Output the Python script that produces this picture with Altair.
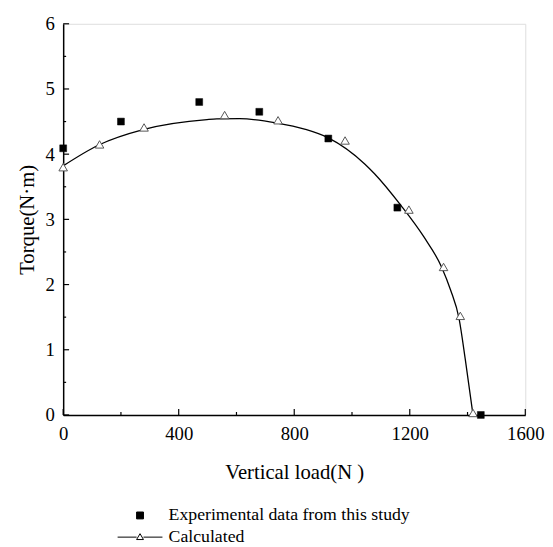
import altair as alt
import pandas as pd

# Experimental data (squares)
exp_x = [0, 200, 471, 679, 918, 1157, 1446]
exp_y = [4.09, 4.5, 4.8, 4.65, 4.24, 3.18, 0.0]

# Calculated points (triangles)
calc_x = [0, 126, 280, 559, 744, 976, 1197, 1317, 1375, 1419]
calc_y = [3.80, 4.15, 4.41, 4.60, 4.52, 4.21, 3.15, 2.27, 1.52, 0.03]

# Calculated smooth curve
curve_x = [0, 123, 280, 498, 532, 611, 737, 839, 918, 1044, 1078, 1170, 1249, 1310, 1341, 1371, 1392, 1419]
curve_y = [3.82, 4.14, 4.38, 4.53, 4.54, 4.545, 4.48, 4.38, 4.25, 3.85, 3.70, 3.21, 2.73, 2.27, 1.92, 1.47, 0.86, 0.0]

series = ["Experimental data from this study", "Calculated"]
x_major = [0, 400, 800, 1200, 1600]
x_minor = [200, 600, 1000, 1400]
y_major = [0, 1, 2, 3, 4, 5, 6]
y_minor = [0.5, 1.5, 2.5, 3.5, 4.5, 5.5]

FONT = "Liberation Serif"
W, H = 469, 397

exp_df = pd.DataFrame({"x": exp_x, "y": exp_y})
calc_df = pd.DataFrame({"x": calc_x, "y": calc_y})
curve_df = pd.DataFrame({"x": curve_x, "y": curve_y})
legend_df = pd.DataFrame({"item": series})
xmaj_df = pd.DataFrame({"v": x_major})
xmin_df = pd.DataFrame({"v": x_minor})
ymaj_df = pd.DataFrame({"v": y_major})
ymin_df = pd.DataFrame({"v": y_minor})

xscale = alt.Scale(domain=[0, 1600], nice=False, zero=False)
yscale = alt.Scale(domain=[0, 6], nice=False, zero=False)

xaxis_main = alt.Axis(
    values=x_major, format="d", ticks=False,
    labelFlush=False, labelOverlap=False,
    domainColor="black", domainWidth=1.5,
    labelFont=FONT, labelFontSize=19, labelColor="black", labelPadding=10,
    title="Vertical load(N )", titleFont=FONT, titleFontSize=21,
    titleFontWeight="normal", titleColor="black", titlePadding=18,
    grid=False, orient="bottom",
)
yaxis_main = alt.Axis(
    values=y_major, format="d", ticks=False,
    labelFlush=False, labelOverlap=False,
    domainColor="black", domainWidth=1.5,
    labelFont=FONT, labelFontSize=19, labelColor="black", labelPadding=9,
    title="Torque(N·m)", titleFont=FONT, titleFontSize=21,
    titleFontWeight="normal", titleColor="black", titlePadding=8,
    grid=False, orient="left",
)

line = alt.Chart(curve_df).mark_line(color="black", strokeWidth=1.3, interpolate="monotone").encode(
    x=alt.X("x:Q", scale=xscale, axis=xaxis_main),
    y=alt.Y("y:Q", scale=yscale, axis=yaxis_main),
)


def xticks(df, size):
    return alt.Chart(df).mark_tick(orient="vertical", size=size, thickness=1.2, color="black",
                                   yOffset=-size / 2, opacity=1).encode(
        x=alt.X("v:Q", scale=xscale, axis=None),
        y=alt.Y(datum=0, scale=yscale, axis=None),
    )


def yticks(df, size):
    return alt.Chart(df).mark_tick(orient="horizontal", size=size, thickness=1.2, color="black",
                                   xOffset=size / 2, opacity=1).encode(
        x=alt.X(datum=0, scale=xscale, axis=None),
        y=alt.Y("v:Q", scale=yscale, axis=None),
    )


calc_pts = alt.Chart(calc_df).mark_point(
    shape="triangle-up", size=75, filled=True, fill="white", stroke="#555555", strokeWidth=1, opacity=1
).encode(
    x=alt.X("x:Q", scale=xscale, axis=None),
    y=alt.Y("y:Q", scale=yscale, axis=None),
)

exp_pts = alt.Chart(exp_df).mark_point(
    shape="square", size=49, filled=True, fill="black", stroke="black", strokeWidth=0.5, opacity=1
).encode(
    x=alt.X("x:Q", scale=xscale, axis=None),
    y=alt.Y("y:Q", scale=yscale, axis=None),
)

legend = alt.Legend(
    title=None, orient="none", legendX=69, legendY=490,
    labelFont=FONT, labelFontSize=18, labelColor="black", labelLimit=400,
    labelOffset=20, rowPadding=4, symbolSize=49, padding=0,
    symbolStrokeWidth=1, symbolOpacity=1,
)

legend_layer = alt.Chart(legend_df).transform_filter("false").mark_point(
    filled=True, opacity=1, strokeWidth=1
).encode(
    shape=alt.Shape("item:N", scale=alt.Scale(
        domain=series,
        range=["square", "M-6.5,0H-1M1,0H6.5M-1,0.7L0,-1L1,0.7Z"]), legend=legend),
    fill=alt.Fill("item:N", scale=alt.Scale(domain=series, range=["black", "white"]), legend=legend),
    stroke=alt.Stroke("item:N", scale=alt.Scale(domain=series, range=["black", "black"]), legend=legend),
)

chart = alt.layer(
    line, xticks(xmaj_df, 6), xticks(xmin_df, 3), yticks(ymaj_df, 6), yticks(ymin_df, 3),
    calc_pts, exp_pts, legend_layer
).resolve_axis(
    x="independent", y="independent"
).properties(
    width=W, height=H,
    autosize=alt.AutoSizeParams(type="none"),
    padding={"left": 56, "top": 12, "right": 20, "bottom": 130},
).configure_view(stroke=None).configure(background="white").configure_axis(
    labelFont=FONT
)

chart.save("out.html", embed_options={"renderer": "svg", "actions": False})
